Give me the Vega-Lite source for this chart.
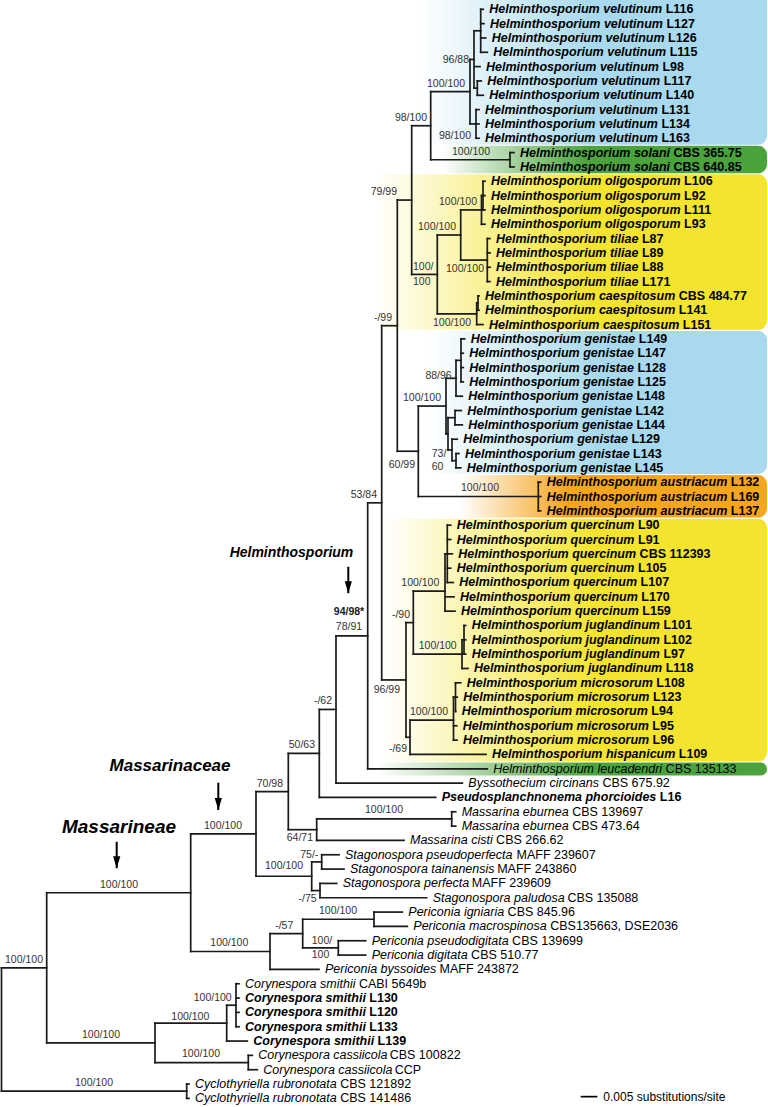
{
  "$schema": "https://vega.github.io/schema/vega-lite/v6.json",
  "width": 768,
  "height": 1107,
  "padding": 0,
  "autosize": {"type": "none"},
  "background": "white",
  "config": {"view": {"stroke": null}, "font": "Liberation Sans"},
  "datasets": {
    "boxes": [
      {"hl": "blue", "x1": 125.55, "x2": 229.65, "y1": -1.5, "y2": 9.45},
      {"hl": "green", "x1": 132.06, "x2": 229.65, "y1": 9.52, "y2": 11.44},
      {"hl": "yellow", "x1": 112.05, "x2": 229.65, "y1": 11.51, "y2": 22.36},
      {"hl": "blue", "x1": 128.55, "x2": 229.65, "y1": 22.45, "y2": 32.42},
      {"hl": "orange", "x1": 137.55, "x2": 229.65, "y1": 32.5, "y2": 35.47},
      {"hl": "yellow", "x1": 115.05, "x2": 229.65, "y1": 35.55, "y2": 52.5},
      {"hl": "green2", "x1": 112.35, "x2": 229.65, "y1": 52.56, "y2": 53.47}
    ],
    "nodes": [
      {"n": "Root", "x": 0, "y": 71.2, "lo": 66.89, "hi": 75.5},
      {"n": "M", "x": 13.56, "px": 0, "y": 66.89, "lo": 61.65, "hi": 72.125},
      {"n": "Cy", "x": 55.56, "px": 0, "y": 75.5, "lo": 75, "hi": 76},
      {"n": "P", "x": 56.76, "px": 13.56, "y": 61.65, "lo": 57.545, "hi": 65.75},
      {"n": "CorAll", "x": 46.05, "px": 13.56, "y": 72.125, "lo": 70.75, "hi": 73.5},
      {"n": "Q", "x": 76.35, "px": 56.76, "y": 57.545, "lo": 54.59, "hi": 60.5},
      {"n": "Per", "x": 80.55, "px": 56.76, "y": 65.75, "lo": 64.5, "hi": 67},
      {"n": "N70", "x": 86.04, "px": 76.35, "y": 54.59, "lo": 51.93, "hi": 57.25},
      {"n": "Stag", "x": 93.06, "px": 76.35, "y": 60.5, "lo": 59.5, "hi": 61.5},
      {"n": "N50", "x": 95.34, "px": 86.04, "y": 51.93, "lo": 48.86, "hi": 55},
      {"n": "Mass", "x": 94.56, "px": 86.04, "y": 57.25, "lo": 56.5, "hi": 58},
      {"n": "Meb", "x": 135.06, "px": 94.56, "y": 56.5, "lo": 56, "hi": 57},
      {"n": "N62", "x": 100.35, "px": 95.34, "y": 48.86, "lo": 43.72, "hi": 54},
      {"n": "Helm", "x": 109.86, "px": 100.35, "y": 43.72, "lo": 34.44, "hi": 53},
      {"n": "N53", "x": 114.06, "px": 109.86, "y": 34.44, "lo": 22.08, "hi": 46.8},
      {"n": "N99", "x": 118.74, "px": 114.06, "y": 22.08, "lo": 13.3125, "hi": 30.84},
      {"n": "N79", "x": 123.06, "px": 118.74, "y": 13.3125, "lo": 8.125, "hi": 18.5},
      {"n": "N98", "x": 128.76, "px": 123.06, "y": 8.125, "lo": 5.75, "hi": 10.5},
      {"n": "V", "x": 140.55, "px": 128.76, "y": 5.75, "lo": 3.5, "hi": 8},
      {"n": "V96", "x": 141.75, "px": 140.55, "y": 3.5, "lo": 1.5, "hi": 5.5},
      {"n": "Va", "x": 143.76, "px": 141.75, "y": 1.5, "lo": 0, "hi": 3},
      {"n": "Vb", "x": 142.74, "px": 141.75, "y": 5.5, "lo": 5, "hi": 6},
      {"n": "V98", "x": 142.35, "px": 140.55, "y": 8, "lo": 7, "hi": 9},
      {"n": "S", "x": 152.55, "px": 128.76, "y": 10.5, "lo": 10, "hi": 11},
      {"n": "OTC", "x": 130.74, "px": 123.06, "y": 18.5, "lo": 15.75, "hi": 21.25},
      {"n": "OT", "x": 137.76, "px": 130.74, "y": 15.75, "lo": 14, "hi": 17.5},
      {"n": "Olig", "x": 144.0, "px": 137.76, "y": 14, "lo": 13, "hi": 15},
      {"n": "O1", "x": 144.45, "px": 144.0, "y": 13, "lo": 12, "hi": 14},
      {"n": "Til", "x": 145.74, "px": 137.76, "y": 17.5, "lo": 16, "hi": 19},
      {"n": "Caesp", "x": 142.56, "px": 130.74, "y": 21.25, "lo": 20.5, "hi": 22},
      {"n": "C1", "x": 142.95, "px": 142.56, "y": 20.5, "lo": 20, "hi": 21},
      {"n": "N60", "x": 125.04, "px": 118.74, "y": 30.84, "lo": 27.6875, "hi": 34},
      {"n": "G", "x": 133.35, "px": 125.04, "y": 27.6875, "lo": 25.75, "hi": 29.625},
      {"n": "G88", "x": 136.35, "px": 133.35, "y": 25.75, "lo": 24.5, "hi": 27},
      {"n": "Ga", "x": 137.85, "px": 136.35, "y": 24.5, "lo": 23, "hi": 26},
      {"n": "G73", "x": 133.95, "px": 133.35, "y": 29.625, "lo": 28.5, "hi": 30.75},
      {"n": "Gb1", "x": 136.05, "px": 133.95, "y": 28.5, "lo": 28, "hi": 29},
      {"n": "Gc", "x": 135.15, "px": 133.95, "y": 30.75, "lo": 30, "hi": 31.5},
      {"n": "Gb2", "x": 136.35, "px": 135.15, "y": 31.5, "lo": 31, "hi": 32},
      {"n": "A", "x": 161.04, "px": 125.04, "y": 34, "lo": 33, "hi": 35},
      {"n": "N96", "x": 121.35, "px": 114.06, "y": 46.8, "lo": 42.8, "hi": 50.8},
      {"n": "N90", "x": 123.54, "px": 121.35, "y": 42.8, "lo": 40.6, "hi": 45},
      {"n": "Qc", "x": 133.05, "px": 123.54, "y": 40.6, "lo": 38, "hi": 42},
      {"n": "Qc2", "x": 133.74, "px": 133.05, "y": 38, "lo": 36, "hi": 40},
      {"n": "J", "x": 138.15, "px": 123.54, "y": 45, "lo": 44, "hi": 46},
      {"n": "J1", "x": 138.75, "px": 138.15, "y": 44, "lo": 43, "hi": 45},
      {"n": "N69", "x": 122.55, "px": 121.35, "y": 50.8, "lo": 49.6, "hi": 52},
      {"n": "Micro", "x": 135.6, "px": 122.55, "y": 49.6, "lo": 48, "hi": 51},
      {"n": "M1", "x": 136.2, "px": 135.6, "y": 48, "lo": 47, "hi": 49},
      {"n": "S75", "x": 96.06, "px": 93.06, "y": 59.5, "lo": 59, "hi": 60},
      {"n": "S_75", "x": 95.55, "px": 93.06, "y": 61.5, "lo": 61, "hi": 62},
      {"n": "P57", "x": 90.36, "px": 80.55, "y": 64.5, "lo": 63.5, "hi": 65.5},
      {"n": "Pig", "x": 111.75, "px": 90.36, "y": 63.5, "lo": 63, "hi": 64},
      {"n": "Pdig", "x": 101.04, "px": 90.36, "y": 65.5, "lo": 65, "hi": 66},
      {"n": "Cs", "x": 67.56, "px": 46.05, "y": 70.75, "lo": 69.5, "hi": 72},
      {"n": "Cs2", "x": 70.35, "px": 67.56, "y": 69.5, "lo": 68, "hi": 71},
      {"n": "Cc", "x": 74.04, "px": 46.05, "y": 73.5, "lo": 73, "hi": 74}
    ],
    "tips": [
      {"i": 0, "x": 144.54, "px": 143.76, "sp": "Helminthosporium velutinum", "st": "L116", "sx": 199.26, "k": "new"},
      {"i": 1, "x": 144.75, "px": 143.76, "sp": "Helminthosporium velutinum", "st": "L127", "sx": 199.47, "k": "new"},
      {"i": 2, "x": 145.26, "px": 143.76, "sp": "Helminthosporium velutinum", "st": "L126", "sx": 199.98, "k": "new"},
      {"i": 3, "x": 145.74, "px": 143.76, "sp": "Helminthosporium velutinum", "st": "L115", "sx": 200.46, "k": "new"},
      {"i": 4, "x": 143.55, "px": 141.75, "sp": "Helminthosporium velutinum", "st": "L98", "sx": 198.27, "k": "new"},
      {"i": 5, "x": 143.94, "px": 142.74, "sp": "Helminthosporium velutinum", "st": "L117", "sx": 198.66, "k": "new"},
      {"i": 6, "x": 144.54, "px": 142.74, "sp": "Helminthosporium velutinum", "st": "L140", "sx": 199.26, "k": "new"},
      {"i": 7, "x": 143.25, "px": 142.35, "sp": "Helminthosporium velutinum", "st": "L131", "sx": 197.97, "k": "new"},
      {"i": 8, "x": 143.25, "px": 142.35, "sp": "Helminthosporium velutinum", "st": "L134", "sx": 197.97, "k": "new"},
      {"i": 9, "x": 143.25, "px": 142.35, "sp": "Helminthosporium velutinum", "st": "L163", "sx": 197.97, "k": "new"},
      {"i": 10, "x": 153.75, "px": 152.55, "sp": "Helminthosporium solani", "st": "CBS 365.75", "sx": 201.6, "k": "new"},
      {"i": 11, "x": 153.75, "px": 152.55, "sp": "Helminthosporium solani", "st": "CBS 640.85", "sx": 201.6, "k": "new"},
      {"i": 12, "x": 145.05, "px": 144.45, "sp": "Helminthosporium oligosporum", "st": "L106", "sx": 204.78, "k": "new"},
      {"i": 13, "x": 145.05, "px": 144.45, "sp": "Helminthosporium oligosporum", "st": "L92", "sx": 204.78, "k": "new"},
      {"i": 14, "x": 145.05, "px": 144.45, "sp": "Helminthosporium oligosporum", "st": "L111", "sx": 204.78, "k": "new"},
      {"i": 15, "x": 145.05, "px": 144.0, "sp": "Helminthosporium oligosporum", "st": "L93", "sx": 204.78, "k": "new"},
      {"i": 16, "x": 146.55, "px": 145.74, "sp": "Helminthosporium tiliae", "st": "L87", "sx": 192.12, "k": "new"},
      {"i": 17, "x": 146.55, "px": 145.74, "sp": "Helminthosporium tiliae", "st": "L89", "sx": 192.12, "k": "new"},
      {"i": 18, "x": 146.55, "px": 145.74, "sp": "Helminthosporium tiliae", "st": "L88", "sx": 192.12, "k": "new"},
      {"i": 19, "x": 146.55, "px": 145.74, "sp": "Helminthosporium tiliae", "st": "L171", "sx": 192.12, "k": "new"},
      {"i": 20, "x": 143.25, "px": 142.95, "sp": "Helminthosporium caespitosum", "st": "CBS 484.77", "sx": 203.19, "k": "new"},
      {"i": 21, "x": 143.25, "px": 142.95, "sp": "Helminthosporium caespitosum", "st": "L141", "sx": 203.19, "k": "new"},
      {"i": 22, "x": 144.45, "px": 142.56, "sp": "Helminthosporium caespitosum", "st": "L151", "sx": 204.39, "k": "new"},
      {"i": 23, "x": 138.96, "px": 137.85, "sp": "Helminthosporium genistae", "st": "L149", "sx": 191.19, "k": "new"},
      {"i": 24, "x": 138.54, "px": 137.85, "sp": "Helminthosporium genistae", "st": "L147", "sx": 190.77, "k": "new"},
      {"i": 25, "x": 138.54, "px": 137.85, "sp": "Helminthosporium genistae", "st": "L128", "sx": 190.77, "k": "new"},
      {"i": 26, "x": 138.54, "px": 137.85, "sp": "Helminthosporium genistae", "st": "L125", "sx": 190.77, "k": "new"},
      {"i": 27, "x": 138.24, "px": 136.35, "sp": "Helminthosporium genistae", "st": "L148", "sx": 190.47, "k": "new"},
      {"i": 28, "x": 137.94, "px": 136.05, "sp": "Helminthosporium genistae", "st": "L142", "sx": 190.17, "k": "new"},
      {"i": 29, "x": 138.24, "px": 136.05, "sp": "Helminthosporium genistae", "st": "L144", "sx": 190.47, "k": "new"},
      {"i": 30, "x": 136.74, "px": 135.15, "sp": "Helminthosporium genistae", "st": "L129", "sx": 188.97, "k": "new"},
      {"i": 31, "x": 137.25, "px": 136.35, "sp": "Helminthosporium genistae", "st": "L143", "sx": 189.48, "k": "new"},
      {"i": 32, "x": 137.76, "px": 136.35, "sp": "Helminthosporium genistae", "st": "L145", "sx": 189.99, "k": "new"},
      {"i": 33, "x": 161.76, "px": 161.04, "sp": "Helminthosporium austriacum", "st": "L132", "sx": 218.79, "k": "new"},
      {"i": 34, "x": 161.76, "px": 161.04, "sp": "Helminthosporium austriacum", "st": "L169", "sx": 218.79, "k": "new"},
      {"i": 35, "x": 161.76, "px": 161.04, "sp": "Helminthosporium austriacum", "st": "L137", "sx": 218.79, "k": "new"},
      {"i": 36, "x": 134.76, "px": 133.74, "sp": "Helminthosporium quercinum", "st": "L90", "sx": 190.95, "k": "new"},
      {"i": 37, "x": 134.76, "px": 133.74, "sp": "Helminthosporium quercinum", "st": "L91", "sx": 190.95, "k": "new"},
      {"i": 38, "x": 135.24, "px": 133.74, "sp": "Helminthosporium quercinum", "st": "CBS 112393", "sx": 191.43, "k": "new"},
      {"i": 39, "x": 134.76, "px": 133.74, "sp": "Helminthosporium quercinum", "st": "L105", "sx": 190.95, "k": "new"},
      {"i": 40, "x": 135.54, "px": 133.74, "sp": "Helminthosporium quercinum", "st": "L107", "sx": 191.73, "k": "new"},
      {"i": 41, "x": 135.75, "px": 133.05, "sp": "Helminthosporium quercinum", "st": "L170", "sx": 191.94, "k": "new"},
      {"i": 42, "x": 136.05, "px": 133.05, "sp": "Helminthosporium quercinum", "st": "L159", "sx": 192.24, "k": "new"},
      {"i": 43, "x": 139.26, "px": 138.75, "sp": "Helminthosporium juglandinum", "st": "L101", "sx": 198.57, "k": "new"},
      {"i": 44, "x": 139.26, "px": 138.75, "sp": "Helminthosporium juglandinum", "st": "L102", "sx": 198.57, "k": "new"},
      {"i": 45, "x": 139.26, "px": 138.75, "sp": "Helminthosporium juglandinum", "st": "L97", "sx": 198.57, "k": "new"},
      {"i": 46, "x": 139.95, "px": 138.15, "sp": "Helminthosporium juglandinum", "st": "L118", "sx": 199.26, "k": "new"},
      {"i": 47, "x": 137.76, "px": 136.2, "sp": "Helminthosporium microsorum", "st": "L108", "sx": 196.44, "k": "new"},
      {"i": 48, "x": 136.74, "px": 136.2, "sp": "Helminthosporium microsorum", "st": "L123", "sx": 195.42, "k": "new"},
      {"i": 49, "x": 136.26, "px": 136.2, "sp": "Helminthosporium microsorum", "st": "L94", "sx": 194.94, "k": "new"},
      {"i": 50, "x": 136.56, "px": 135.6, "sp": "Helminthosporium microsorum", "st": "L95", "sx": 195.24, "k": "new"},
      {"i": 51, "x": 136.65, "px": 135.6, "sp": "Helminthosporium microsorum", "st": "L96", "sx": 195.33, "k": "new"},
      {"i": 52, "x": 145.35, "px": 122.55, "sp": "Helminthosporium hispanicum", "st": "L109", "sx": 203.19, "k": "new"},
      {"i": 53, "x": 145.74, "px": 109.86, "sp": "Helminthosporium leucadendri", "st": "CBS 135133", "sx": 199.23, "k": "ref"},
      {"i": 54, "x": 138.24, "px": 100.35, "sp": "Byssothecium circinans", "st": "CBS 675.92", "sx": 180.27, "k": "ref"},
      {"i": 55, "x": 130.26, "px": 95.34, "sp": "Pseudosplanchnonema phorcioides", "st": "L16", "sx": 197.49, "k": "new"},
      {"i": 56, "x": 136.26, "px": 135.06, "sp": "Massarina eburnea", "st": "CBS 139697", "sx": 171.21, "k": "ref"},
      {"i": 57, "x": 136.26, "px": 135.06, "sp": "Massarina eburnea", "st": "CBS 473.64", "sx": 171.21, "k": "ref"},
      {"i": 58, "x": 120.75, "px": 94.56, "sp": "Massarina cisti", "st": "CBS 266.62", "sx": 148.38, "k": "ref"},
      {"i": 59, "x": 101.25, "px": 96.06, "sp": "Stagonospora pseudoperfecta", "st": "MAFF 239607", "sx": 154.5, "k": "ref"},
      {"i": 60, "x": 102.75, "px": 96.06, "sp": "Stagonospora tainanensis", "st": "MAFF 243860", "sx": 148.71, "k": "ref"},
      {"i": 61, "x": 100.56, "px": 95.55, "sp": "Stagonospora perfecta", "st": "MAFF 239609", "sx": 141.09, "k": "ref"},
      {"i": 62, "x": 127.56, "px": 95.55, "sp": "Stagonospora paludosa", "st": "CBS 135088", "sx": 169.77, "k": "ref"},
      {"i": 63, "x": 120.24, "px": 111.75, "sp": "Periconia igniaria", "st": "CBS 845.96", "sx": 151.83, "k": "ref"},
      {"i": 64, "x": 121.74, "px": 111.75, "sp": "Periconia macrospinosa", "st": "CBS135663, DSE2036", "sx": 164.61, "k": "ref"},
      {"i": 65, "x": 109.26, "px": 101.04, "sp": "Periconia pseudodigitata", "st": "CBS 139699", "sx": 153.18, "k": "ref"},
      {"i": 66, "x": 109.26, "px": 101.04, "sp": "Periconia digitata", "st": "CBS 510.77", "sx": 140.88, "k": "ref"},
      {"i": 67, "x": 95.25, "px": 80.55, "sp": "Periconia byssoides", "st": "MAFF 243872", "sx": 131.43, "k": "ref"},
      {"i": 68, "x": 71.25, "px": 70.35, "sp": "Corynespora smithii", "st": "CABI 5649b", "sx": 107.22, "k": "ref"},
      {"i": 69, "x": 71.25, "px": 70.35, "sp": "Corynespora smithii", "st": "L130", "sx": 110.34, "k": "new"},
      {"i": 70, "x": 71.25, "px": 70.35, "sp": "Corynespora smithii", "st": "L120", "sx": 110.34, "k": "new"},
      {"i": 71, "x": 71.25, "px": 70.35, "sp": "Corynespora smithii", "st": "L133", "sx": 110.34, "k": "new"},
      {"i": 72, "x": 73.74, "px": 67.56, "sp": "Corynespora smithii", "st": "L139", "sx": 112.83, "k": "new"},
      {"i": 73, "x": 75.24, "px": 74.04, "sp": "Corynespora cassiicola", "st": "CBS 100822", "sx": 116.46, "k": "ref"},
      {"i": 74, "x": 76.74, "px": 74.04, "sp": "Corynespora cassiicola", "st": "CCP", "sx": 117.96, "k": "ref"},
      {"i": 75, "x": 56.25, "px": 55.56, "sp": "Cyclothyriella rubronotata", "st": "CBS 121892", "sx": 101.61, "k": "ref"},
      {"i": 76, "x": 56.25, "px": 55.56, "sp": "Cyclothyriella rubronotata", "st": "CBS 141486", "sx": 101.61, "k": "ref"}
    ],
    "sup": [
      {"x": 12.45, "y": 66.33, "t": "100/100", "al": "r"},
      {"x": 40.95, "y": 61.09, "t": "100/100", "al": "r"},
      {"x": 72.15, "y": 56.98, "t": "100/100", "al": "r"},
      {"x": 84.45, "y": 54.03, "t": "70/98", "al": "r"},
      {"x": 94.05, "y": 51.37, "t": "50/63", "al": "r"},
      {"x": 99.15, "y": 48.3, "t": "-/62", "al": "r"},
      {"x": 112.65, "y": 33.88, "t": "53/84", "al": "r"},
      {"x": 117.15, "y": 21.52, "t": "-/99", "al": "r"},
      {"x": 118.65, "y": 12.75, "t": "79/99", "al": "r"},
      {"x": 127.65, "y": 7.57, "t": "98/100", "al": "r"},
      {"x": 139.05, "y": 5.19, "t": "100/100", "al": "r"},
      {"x": 140.25, "y": 3.55, "t": "96/88", "al": "r"},
      {"x": 140.85, "y": 8.84, "t": "98/100", "al": "r"},
      {"x": 146.55, "y": 9.94, "t": "100/100", "al": "r"},
      {"x": 136.35, "y": 15.19, "t": "100/100", "al": "r"},
      {"x": 142.65, "y": 13.44, "t": "100/100", "al": "r"},
      {"x": 144.75, "y": 18.1, "t": "100/100", "al": "r"},
      {"x": 140.85, "y": 21.9, "t": "100/100", "al": "r"},
      {"x": 131.85, "y": 27.13, "t": "100/100", "al": "r"},
      {"x": 135.06, "y": 25.6, "t": "88/96", "al": "r"},
      {"x": 124.05, "y": 31.8, "t": "60/99", "al": "r"},
      {"x": 149.25, "y": 33.4, "t": "100/100", "al": "r"},
      {"x": 131.34, "y": 40.04, "t": "100/100", "al": "r"},
      {"x": 122.55, "y": 42.3, "t": "-/90", "al": "r"},
      {"x": 136.56, "y": 44.44, "t": "100/100", "al": "r"},
      {"x": 133.95, "y": 49.04, "t": "100/100", "al": "r"},
      {"x": 121.65, "y": 51.6, "t": "-/69", "al": "r"},
      {"x": 119.55, "y": 47.5, "t": "96/99", "al": "r"},
      {"x": 93.45, "y": 57.85, "t": "64/71", "al": "r"},
      {"x": 120.45, "y": 55.9, "t": "100/100", "al": "r"},
      {"x": 90.45, "y": 59.8, "t": "100/100", "al": "r"},
      {"x": 95.04, "y": 59.0, "t": "75/-", "al": "r"},
      {"x": 94.56, "y": 62.1, "t": "-/75", "al": "r"},
      {"x": 74.04, "y": 65.15, "t": "100/100", "al": "r"},
      {"x": 87.54, "y": 63.94, "t": "-/57", "al": "r"},
      {"x": 106.65, "y": 62.94, "t": "100/100", "al": "r"},
      {"x": 35.55, "y": 71.57, "t": "100/100", "al": "r"},
      {"x": 62.34, "y": 70.3, "t": "100/100", "al": "r"},
      {"x": 69.06, "y": 69.0, "t": "100/100", "al": "r"},
      {"x": 65.55, "y": 72.9, "t": "100/100", "al": "r"},
      {"x": 33.45, "y": 74.9, "t": "100/100", "al": "r"},
      {"x": 123.45, "y": 17.95, "t": "100/", "al": "l"},
      {"x": 123.45, "y": 19.0, "t": "100", "al": "l"},
      {"x": 129.06, "y": 31.0, "t": "73/", "al": "l"},
      {"x": 129.06, "y": 31.96, "t": "60", "al": "l"},
      {"x": 93.06, "y": 65.0, "t": "100/", "al": "l"},
      {"x": 93.06, "y": 66.0, "t": "100", "al": "l"},
      {"x": 104.25, "y": 43.1, "t": "78/91", "al": "c"}
    ],
    "arrows": [
      {"x": 104.04, "y1": 38.9, "y2": 40.75},
      {"x": 65.04, "y1": 53.97, "y2": 55.88},
      {"x": 34.56, "y1": 58.09, "y2": 59.94}
    ]
  },
  "layer": [
    {
      "data": {"name": "boxes"},
      "transform": [{"filter": {"field": "hl", "equal": "blue"}}],
      "mark": {"type": "rect", "cornerRadius": 9, "color": {"gradient": "linear", "x1": 0, "y1": 0, "x2": 1, "y2": 0, "stops": [{"offset": 0, "color": "#ffffff"}, {"offset": 0.5, "color": "#a8d9ee"}, {"offset": 1, "color": "#a8d9ee"}]}},
      "encoding": {
        "x": {"field": "x1", "type": "quantitative", "scale": {"domain": [-0.45, 229.95], "nice": false, "zero": false}, "axis": null},
        "x2": {"field": "x2"},
        "y": {"field": "y1", "type": "quantitative", "scale": {"domain": [-0.649, 76.602], "reverse": true, "nice": false, "zero": false}, "axis": null},
        "y2": {"field": "y2"}
      }
    },
    {
      "data": {"name": "boxes"},
      "transform": [{"filter": {"field": "hl", "equal": "green"}}],
      "mark": {"type": "rect", "cornerRadius": 9, "color": {"gradient": "linear", "x1": 0, "y1": 0, "x2": 1, "y2": 0, "stops": [{"offset": 0, "color": "#ffffff"}, {"offset": 0.45, "color": "#4aa33b"}, {"offset": 1, "color": "#4aa33b"}]}},
      "encoding": {
        "x": {"field": "x1", "type": "quantitative", "scale": {"domain": [-0.45, 229.95], "nice": false, "zero": false}, "axis": null},
        "x2": {"field": "x2"},
        "y": {"field": "y1", "type": "quantitative", "scale": {"domain": [-0.649, 76.602], "reverse": true, "nice": false, "zero": false}, "axis": null},
        "y2": {"field": "y2"}
      }
    },
    {
      "data": {"name": "boxes"},
      "transform": [{"filter": {"field": "hl", "equal": "green2"}}],
      "mark": {"type": "rect", "cornerRadius": 7, "color": {"gradient": "linear", "x1": 0, "y1": 0, "x2": 1, "y2": 0, "stops": [{"offset": 0, "color": "#ffffff"}, {"offset": 0.55, "color": "#4aa33b"}, {"offset": 1, "color": "#4aa33b"}]}},
      "encoding": {
        "x": {"field": "x1", "type": "quantitative", "scale": {"domain": [-0.45, 229.95], "nice": false, "zero": false}, "axis": null},
        "x2": {"field": "x2"},
        "y": {"field": "y1", "type": "quantitative", "scale": {"domain": [-0.649, 76.602], "reverse": true, "nice": false, "zero": false}, "axis": null},
        "y2": {"field": "y2"}
      }
    },
    {
      "data": {"name": "boxes"},
      "transform": [{"filter": {"field": "hl", "equal": "yellow"}}],
      "mark": {"type": "rect", "cornerRadius": 9, "color": {"gradient": "linear", "x1": 0, "y1": 0, "x2": 1, "y2": 0, "stops": [{"offset": 0, "color": "#ffffff"}, {"offset": 0.55, "color": "#f4e42e"}, {"offset": 1, "color": "#f4e42e"}]}},
      "encoding": {
        "x": {"field": "x1", "type": "quantitative", "scale": {"domain": [-0.45, 229.95], "nice": false, "zero": false}, "axis": null},
        "x2": {"field": "x2"},
        "y": {"field": "y1", "type": "quantitative", "scale": {"domain": [-0.649, 76.602], "reverse": true, "nice": false, "zero": false}, "axis": null},
        "y2": {"field": "y2"}
      }
    },
    {
      "data": {"name": "boxes"},
      "transform": [{"filter": {"field": "hl", "equal": "orange"}}],
      "mark": {"type": "rect", "cornerRadius": 9, "color": {"gradient": "linear", "x1": 0, "y1": 0, "x2": 1, "y2": 0, "stops": [{"offset": 0, "color": "#ffffff"}, {"offset": 0.35, "color": "#f6a51e"}, {"offset": 1, "color": "#f6a51e"}]}},
      "encoding": {
        "x": {"field": "x1", "type": "quantitative", "scale": {"domain": [-0.45, 229.95], "nice": false, "zero": false}, "axis": null},
        "x2": {"field": "x2"},
        "y": {"field": "y1", "type": "quantitative", "scale": {"domain": [-0.649, 76.602], "reverse": true, "nice": false, "zero": false}, "axis": null},
        "y2": {"field": "y2"}
      }
    },
    {
      "data": {"name": "nodes"},
      "transform": [{"filter": {"field": "px", "valid": true}}],
      "mark": {"type": "rule", "color": "#1a1a1a", "strokeWidth": 1.7, "strokeCap": "square"},
      "encoding": {
        "x": {"field": "px", "type": "quantitative", "scale": {"domain": [-0.45, 229.95], "nice": false, "zero": false}, "axis": null},
        "x2": {"field": "x"},
        "y": {"field": "y", "type": "quantitative", "scale": {"domain": [-0.649, 76.602], "reverse": true, "nice": false, "zero": false}, "axis": null}
      }
    },
    {
      "data": {"name": "nodes"},
      "mark": {"type": "rule", "color": "#1a1a1a", "strokeWidth": 1.7, "strokeCap": "square"},
      "encoding": {
        "x": {"field": "x", "type": "quantitative", "scale": {"domain": [-0.45, 229.95], "nice": false, "zero": false}, "axis": null},
        "y": {"field": "lo", "type": "quantitative", "scale": {"domain": [-0.649, 76.602], "reverse": true, "nice": false, "zero": false}, "axis": null},
        "y2": {"field": "hi"}
      }
    },
    {
      "data": {"name": "tips"},
      "mark": {"type": "rule", "color": "#1a1a1a", "strokeWidth": 1.7, "strokeCap": "square"},
      "encoding": {
        "x": {"field": "px", "type": "quantitative", "scale": {"domain": [-0.45, 229.95], "nice": false, "zero": false}, "axis": null},
        "x2": {"field": "x"},
        "y": {"field": "i", "type": "quantitative", "scale": {"domain": [-0.649, 76.602], "reverse": true, "nice": false, "zero": false}, "axis": null}
      }
    },
    {
      "data": {"name": "tips"},
      "transform": [{"filter": {"field": "k", "equal": "new"}}],
      "mark": {"type": "text", "align": "left", "baseline": "middle", "dx": 6, "fontSize": 12.5, "fontStyle": "italic", "fontWeight": "bold", "font": "Liberation Sans", "color": "#000000"},
      "encoding": {
        "x": {"field": "x", "type": "quantitative", "scale": {"domain": [-0.45, 229.95], "nice": false, "zero": false}, "axis": null},
        "y": {"field": "i", "type": "quantitative", "scale": {"domain": [-0.649, 76.602], "reverse": true, "nice": false, "zero": false}, "axis": null},
        "text": {"field": "sp", "type": "nominal"}
      }
    },
    {
      "data": {"name": "tips"},
      "transform": [{"filter": {"field": "k", "equal": "new"}}],
      "mark": {"type": "text", "align": "left", "baseline": "middle", "fontSize": 12.5, "fontWeight": "bold", "font": "Liberation Sans", "color": "#000000"},
      "encoding": {
        "x": {"field": "sx", "type": "quantitative", "scale": {"domain": [-0.45, 229.95], "nice": false, "zero": false}, "axis": null},
        "y": {"field": "i", "type": "quantitative", "scale": {"domain": [-0.649, 76.602], "reverse": true, "nice": false, "zero": false}, "axis": null},
        "text": {"field": "st", "type": "nominal"}
      }
    },
    {
      "data": {"name": "tips"},
      "transform": [{"filter": {"field": "k", "equal": "ref"}}],
      "mark": {"type": "text", "align": "left", "baseline": "middle", "dx": 6, "fontSize": 12.5, "fontStyle": "italic", "font": "Liberation Sans", "color": "#000000"},
      "encoding": {
        "x": {"field": "x", "type": "quantitative", "scale": {"domain": [-0.45, 229.95], "nice": false, "zero": false}, "axis": null},
        "y": {"field": "i", "type": "quantitative", "scale": {"domain": [-0.649, 76.602], "reverse": true, "nice": false, "zero": false}, "axis": null},
        "text": {"field": "sp", "type": "nominal"}
      }
    },
    {
      "data": {"name": "tips"},
      "transform": [{"filter": {"field": "k", "equal": "ref"}}],
      "mark": {"type": "text", "align": "left", "baseline": "middle", "fontSize": 12.5, "font": "Liberation Sans", "color": "#000000"},
      "encoding": {
        "x": {"field": "sx", "type": "quantitative", "scale": {"domain": [-0.45, 229.95], "nice": false, "zero": false}, "axis": null},
        "y": {"field": "i", "type": "quantitative", "scale": {"domain": [-0.649, 76.602], "reverse": true, "nice": false, "zero": false}, "axis": null},
        "text": {"field": "st", "type": "nominal"}
      }
    },
    {
      "data": {"name": "sup"},
      "transform": [{"filter": {"field": "al", "equal": "r"}}],
      "mark": {"type": "text", "align": "right", "baseline": "middle", "fontSize": 10.5, "font": "Liberation Sans", "color": "#333333"},
      "encoding": {
        "x": {"field": "x", "type": "quantitative", "scale": {"domain": [-0.45, 229.95], "nice": false, "zero": false}, "axis": null},
        "y": {"field": "y", "type": "quantitative", "scale": {"domain": [-0.649, 76.602], "reverse": true, "nice": false, "zero": false}, "axis": null},
        "text": {"field": "t", "type": "nominal"}
      }
    },
    {
      "data": {"name": "sup"},
      "transform": [{"filter": {"field": "al", "equal": "l"}}],
      "mark": {"type": "text", "align": "left", "baseline": "middle", "fontSize": 10.5, "font": "Liberation Sans", "color": "#333333"},
      "encoding": {
        "x": {"field": "x", "type": "quantitative", "scale": {"domain": [-0.45, 229.95], "nice": false, "zero": false}, "axis": null},
        "y": {"field": "y", "type": "quantitative", "scale": {"domain": [-0.649, 76.602], "reverse": true, "nice": false, "zero": false}, "axis": null},
        "text": {"field": "t", "type": "nominal"}
      }
    },
    {
      "data": {"name": "sup"},
      "transform": [{"filter": {"field": "al", "equal": "c"}}],
      "mark": {"type": "text", "align": "center", "baseline": "middle", "fontSize": 10.5, "font": "Liberation Sans", "color": "#333333"},
      "encoding": {
        "x": {"field": "x", "type": "quantitative", "scale": {"domain": [-0.45, 229.95], "nice": false, "zero": false}, "axis": null},
        "y": {"field": "y", "type": "quantitative", "scale": {"domain": [-0.649, 76.602], "reverse": true, "nice": false, "zero": false}, "axis": null},
        "text": {"field": "t", "type": "nominal"}
      }
    },
    {
      "data": {"values": [{"x": 104.25, "y": 42.06, "t": "94/98*"}]},
      "mark": {"type": "text", "align": "center", "baseline": "middle", "fontSize": 10.5, "fontWeight": "bold", "font": "Liberation Sans", "color": "#1a1a1a"},
      "encoding": {
        "x": {"field": "x", "type": "quantitative", "scale": {"domain": [-0.45, 229.95], "nice": false, "zero": false}, "axis": null},
        "y": {"field": "y", "type": "quantitative", "scale": {"domain": [-0.649, 76.602], "reverse": true, "nice": false, "zero": false}, "axis": null},
        "text": {"field": "t", "type": "nominal"}
      }
    },
    {
      "data": {"values": [{"x": 105.54, "y": 37.96, "t": "Helminthosporium"}]},
      "mark": {"type": "text", "align": "right", "baseline": "middle", "fontSize": 14, "fontWeight": "bold", "fontStyle": "italic", "font": "Liberation Sans", "color": "#000000"},
      "encoding": {
        "x": {"field": "x", "type": "quantitative", "scale": {"domain": [-0.45, 229.95], "nice": false, "zero": false}, "axis": null},
        "y": {"field": "y", "type": "quantitative", "scale": {"domain": [-0.649, 76.602], "reverse": true, "nice": false, "zero": false}, "axis": null},
        "text": {"field": "t", "type": "nominal"}
      }
    },
    {
      "data": {"values": [{"x": 50.55, "y": 52.81, "t": "Massarinaceae"}]},
      "mark": {"type": "text", "align": "center", "baseline": "middle", "fontSize": 17, "fontWeight": "bold", "fontStyle": "italic", "font": "Liberation Sans", "color": "#000000"},
      "encoding": {
        "x": {"field": "x", "type": "quantitative", "scale": {"domain": [-0.45, 229.95], "nice": false, "zero": false}, "axis": null},
        "y": {"field": "y", "type": "quantitative", "scale": {"domain": [-0.649, 76.602], "reverse": true, "nice": false, "zero": false}, "axis": null},
        "text": {"field": "t", "type": "nominal"}
      }
    },
    {
      "data": {"values": [{"x": 35.25, "y": 57.08, "t": "Massarineae"}]},
      "mark": {"type": "text", "align": "center", "baseline": "middle", "fontSize": 19, "fontWeight": "bold", "fontStyle": "italic", "font": "Liberation Sans", "color": "#000000"},
      "encoding": {
        "x": {"field": "x", "type": "quantitative", "scale": {"domain": [-0.45, 229.95], "nice": false, "zero": false}, "axis": null},
        "y": {"field": "y", "type": "quantitative", "scale": {"domain": [-0.649, 76.602], "reverse": true, "nice": false, "zero": false}, "axis": null},
        "text": {"field": "t", "type": "nominal"}
      }
    },
    {
      "data": {"name": "arrows"},
      "mark": {"type": "rule", "color": "#000000", "strokeWidth": 2},
      "encoding": {
        "x": {"field": "x", "type": "quantitative", "scale": {"domain": [-0.45, 229.95], "nice": false, "zero": false}, "axis": null},
        "y": {"field": "y1", "type": "quantitative", "scale": {"domain": [-0.649, 76.602], "reverse": true, "nice": false, "zero": false}, "axis": null},
        "y2": {"field": "y2"}
      }
    },
    {
      "data": {"name": "arrows"},
      "mark": {"type": "point", "shape": "M-0.6,-1L0.6,-1L0,1Z", "size": 144, "filled": true, "opacity": 1, "color": "#000000", "yOffset": -6},
      "encoding": {
        "x": {"field": "x", "type": "quantitative", "scale": {"domain": [-0.45, 229.95], "nice": false, "zero": false}, "axis": null},
        "y": {"field": "y2", "type": "quantitative", "scale": {"domain": [-0.649, 76.602], "reverse": true, "nice": false, "zero": false}, "axis": null}
      }
    },
    {
      "data": {"values": [{"x": 173.76, "x2": 178.76, "y": 75.88, "t": "0.005 substitutions/site"}]},
      "layer": [
        {
          "mark": {"type": "rule", "color": "#000000", "strokeWidth": 1.7},
          "encoding": {
            "x": {"field": "x", "type": "quantitative", "scale": {"domain": [-0.45, 229.95], "nice": false, "zero": false}, "axis": null},
            "x2": {"field": "x2"},
            "y": {"field": "y", "type": "quantitative", "scale": {"domain": [-0.649, 76.602], "reverse": true, "nice": false, "zero": false}, "axis": null}
          }
        },
        {
          "mark": {"type": "text", "align": "left", "baseline": "middle", "dx": 6, "fontSize": 12, "font": "Liberation Sans", "color": "#000000"},
          "encoding": {
            "x": {"field": "x2", "type": "quantitative", "scale": {"domain": [-0.45, 229.95], "nice": false, "zero": false}, "axis": null},
            "y": {"field": "y", "type": "quantitative", "scale": {"domain": [-0.649, 76.602], "reverse": true, "nice": false, "zero": false}, "axis": null},
            "text": {"field": "t", "type": "nominal"}
          }
        }
      ]
    }
  ]
}
